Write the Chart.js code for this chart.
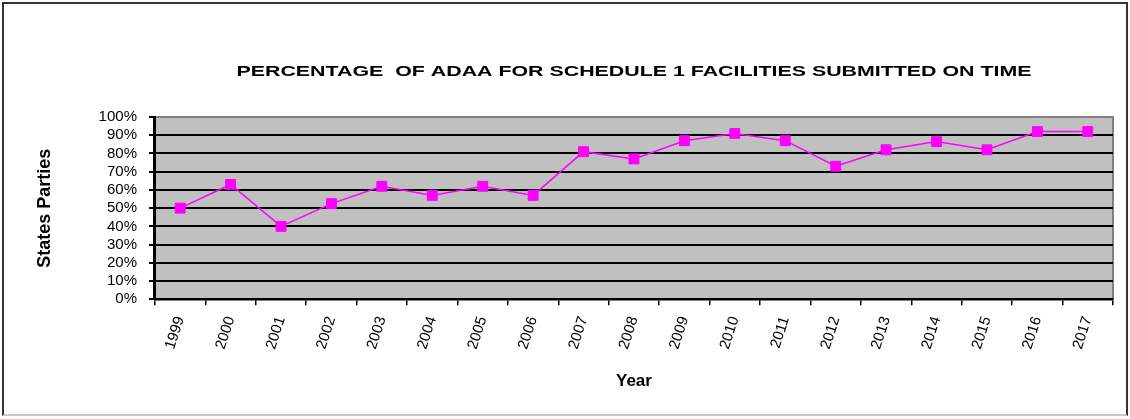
<!DOCTYPE html>
<html>
<head>
<meta charset="utf-8">
<script src="https://cdn.jsdelivr.net/npm/chart.js@4"></script>
<style>
  html, body { margin: 0; padding: 0; background: #fff; }
  #wrap { position: relative; width: 1130px; height: 419px; }
  #frame {
    position: absolute; left: 2px; top: 2px; width: 1126px; height: 414px;
    box-sizing: border-box;
    border-top: 2px solid #333; border-left: 2px solid #333; border-right: 2px solid #333;
    border-bottom: 2px solid #c8c8c8;
    pointer-events: none;
  }
  canvas { position: absolute; left: 0; top: 0; }
</style>
</head>
<body>
<div id="wrap">
  <canvas id="chart" width="1130" height="419"></canvas>
  <div id="frame"></div>
</div>
<script>
const years = ["1999", "2000", "2001", "2002", "2003", "2004", "2005", "2006", "2007", "2008",
               "2009", "2010", "2011", "2012", "2013", "2014", "2015", "2016", "2017"];
const onTime = [50, 63, 40, 52.5, 62, 57, 62, 57, 81, 77, 87, 91, 87, 73, 82, 86.5, 82, 92, 92];
const yTicks = [0, 10, 20, 30, 40, 50, 60, 70, 80, 90, 100];
const chartTitle = "PERCENTAGE  OF ADAA FOR SCHEDULE 1 FACILITIES SUBMITTED ON TIME";

// grey plot area + stretched title, like the old spreadsheet chart
const plotBack = {
    id: 'plotBack',
    beforeDraw(chart) {
        const {ctx, chartArea: a} = chart;
        ctx.save();
        ctx.fillStyle = '#c0c0c0';
        ctx.fillRect(a.left, a.top, a.right - a.left, a.bottom - a.top);
        ctx.strokeStyle = '#808080';
        ctx.lineWidth = 2;
        ctx.beginPath();
        ctx.moveTo(a.left, a.top);
        ctx.lineTo(a.right, a.top);
        ctx.lineTo(a.right, a.bottom);
        ctx.stroke();
        ctx.restore();
    },
    afterDraw(chart) {
        const {ctx, chartArea: a} = chart;
        ctx.save();
        ctx.font = "bold 15px 'Liberation Sans', Arial, sans-serif";
        ctx.fillStyle = '#000';
        ctx.textAlign = 'center';
        ctx.textBaseline = 'middle';
        const w = ctx.measureText(chartTitle).width;
        const sx = 795 / w;
        ctx.translate((a.left + a.right) / 2, 72);
        ctx.scale(sx, 1);
        ctx.fillText(chartTitle, 0, 0);
        ctx.restore();
    }
};

const ctx = document.getElementById('chart');
new Chart(ctx, {
    type: 'line',
    data: {
        labels: years,
        datasets: [{
            data: onTime,
            borderColor: '#ff00ff',
            backgroundColor: '#ff00ff',
            borderWidth: 1.5,
            pointStyle: 'rect',
            pointRadius: 7,
            pointBorderWidth: 1,
            pointBorderColor: '#ff00ff',
            pointBackgroundColor: '#ff00ff',
            tension: 0
        }]
    },
    options: {
        responsive: false,
        animation: false,
        layout: { padding: { top: 117, right: 17, left: 0, bottom: 0 } },
        scales: {
            x: {
                offset: true,
                grid: {
                    offset: true,
                    drawOnChartArea: false,
                    drawTicks: true,
                    tickLength: 6,
                    color: '#000',
                    lineWidth: 1.5
                },
                border: { color: '#000', width: 2.5 },
                ticks: {
                    color: '#000',
                    font: { family: "'Liberation Sans', Arial, sans-serif", size: 15 },
                    minRotation: 72,
                    maxRotation: 72,
                    padding: 9,
                    autoSkip: false
                },
                title: {
                    display: true,
                    text: 'Year',
                    color: '#000',
                    font: { family: "'Liberation Sans', Arial, sans-serif", size: 17, weight: 'bold' },
                    padding: { top: 11, bottom: 27 }
                }
            },
            y: {
                min: 0,
                max: 100,
                afterBuildTicks(axis) {
                    axis.ticks = yTicks.map(v => ({value: v}));
                },
                grid: {
                    color: c => (c.tick && c.tick.value === 100) ? '#808080' : '#000',
                    lineWidth: 2,
                    tickLength: 6,
                    tickColor: '#000'
                },
                border: { color: '#000', width: 3 },
                ticks: {
                    color: '#000',
                    font: { family: "'Liberation Sans', Arial, sans-serif", size: 15 },
                    padding: 12,
                    autoSkip: false,
                    callback: v => v + '%'
                },
                title: {
                    display: true,
                    text: 'States Parties',
                    color: '#000',
                    font: { family: "'Liberation Sans Narrow', 'Liberation Sans', Arial, sans-serif", size: 18, weight: 'bold' },
                    padding: { top: 34, bottom: 31 }
                }
            }
        },
        plugins: {
            legend: { display: false },
            title: { display: false },
            tooltip: { enabled: false }
        }
    },
    plugins: [plotBack]
});
</script>
</body>
</html>
